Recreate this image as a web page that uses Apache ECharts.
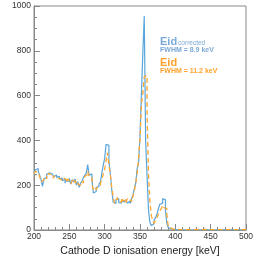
<!DOCTYPE html>
<html><head><meta charset="utf-8">
<script src="https://cdn.jsdelivr.net/npm/echarts@6/dist/echarts.min.js"></script>
<style>html,body{margin:0;padding:0;background:#fff}#c{width:257px;height:257px}</style>
</head><body><div id="c"></div>
<script>
// Histogram: 2 keV bins, lower edges from 200 to 498
var binStart = 200, binWidth = 2;
var correctedCounts = [
 255,268,275,262,245,225,195,228,235,250, // 200-218
 255,248,250,242,238,246,235,240,228,232, // 220-238
 220,228,210,222,215,230,205,225,215,228, // 240-258
 200,215,190,210,220,235,245,255,292,245, // 260-278
 250,225,165,172,190,195,205,215,255,290, // 280-298
 320,382,378,310,250,180,125,118,135,140, // 300-318
 122,120,132,125,118,135,120,128,118,140, // 320-338
 155,185,210,275,300,420,607,789,955,395, // 340-358
 240,90,35,20,28,45,55,70,95,115,         // 360-378
 120,140,135,90,30,10,6,4,3,2,            // 380-398
 1,0,2,0,1,3,0,0,1,0,                     // 400-418
 0,1,0,0,2,0,0,1,0,0,                     // 420-438
 3,0,0,1,0,0,0,2,0,0,                     // 440-458
 0,3,0,0,1,0,0,0,2,0,                     // 460-478
 0,1,0,0,0,2,0,0,1,0                      // 480-498
];
var rawCounts = [
 250,262,258,250,238,215,222,232,240,228,
 252,248,238,232,242,235,240,230,238,222,
 218,232,225,212,228,218,205,220,228,210,
 218,205,200,215,210,222,240,248,262,240,
 235,205,180,190,180,192,200,210,225,250,
 270,310,345,290,250,190,150,120,130,145,
 128,125,145,130,135,122,140,130,135,125,
 150,175,210,255,320,410,560,610,685,690,
 520,250,130,65,40,30,45,55,70,85,
 95,110,100,95,70,15,8,5,3,3,
 2,2,3,2,2,3,2,2,2,3,
 2,3,2,2,3,2,2,3,2,2,
 3,2,2,3,2,2,2,3,2,2,
 2,3,2,2,3,2,2,2,3,2,
 2,3,2,2,2,3,2,2,3,2
];
var xTicks = [200,250,300,350,400,450,500];
var yTicks = [0,200,400,600,800,1000];

function toSteps(counts){
  var pts = [];
  for (var i=0;i<counts.length;i++) pts.push([binStart+i*binWidth, counts[i]]);
  pts.push([binStart+counts.length*binWidth, counts[counts.length-1]]);
  return pts;
}

var chart = echarts.init(document.getElementById('c'), null, {renderer:'canvas'});
var font = 'Liberation Sans, Arial, sans-serif';
chart.setOption({
  animation:false,
  grid:{left:34,right:11,top:6,bottom:27,containLabel:false,outerBoundsMode:'none',
    show:true,borderColor:'#888',borderWidth:1,backgroundColor:'transparent'},
  xAxis:{type:'value',min:xTicks[0],max:xTicks[xTicks.length-1],interval:50,
    name:'Cathode D ionisation energy [keV]',nameLocation:'middle',nameGap:14,
    nameTextStyle:{fontFamily:font,fontSize:10.5,color:'#222'},
    axisLine:{lineStyle:{color:'#888'}},
    axisTick:{inside:true,length:6,lineStyle:{color:'#888'}},
    minorTick:{show:true,splitNumber:5,length:3,lineStyle:{color:'#888'}},
    axisLabel:{fontFamily:font,fontSize:8.5,color:'#333',margin:2,formatter:function(v){return String(v);}},
    splitLine:{show:false}},
  yAxis:{type:'value',min:yTicks[0],max:yTicks[yTicks.length-1],interval:200,
    name:'Counts / 2 keV',nameLocation:'middle',nameGap:22,
    nameTextStyle:{fontFamily:font,fontSize:10.5,color:'#222'},
    axisLine:{show:true,lineStyle:{color:'#888'}},
    axisTick:{show:true,inside:true,length:6,lineStyle:{color:'#888'}},
    minorTick:{show:true,splitNumber:4,length:3,lineStyle:{color:'#888'}},
    axisLabel:{fontFamily:font,fontSize:8.5,color:'#333',margin:3,formatter:function(v){return String(v);}},
    splitLine:{show:false}},
  series:[
    {type:'line',step:'end',symbol:'none',data:toSteps(correctedCounts),
      lineStyle:{color:'#5aa6dc',width:1.2},z:3},
    {type:'line',step:'end',symbol:'none',data:toSteps(rawCounts),
      lineStyle:{color:'#ffa733',width:1.3,type:[5,3]},z:4}
  ],
  graphic:[
    {type:'text',left:160,top:36,style:{text:'{a|Eid}{b|corrected}',rich:{
      a:{fontFamily:font,fontSize:11,fontWeight:'bold',fill:'#7ba9d8',verticalAlign:'bottom'},
      b:{fontFamily:font,fontSize:6.5,fill:'#7ba9d8',verticalAlign:'bottom',padding:[0,0,0,1]}}}},
    {type:'text',left:160,top:47,style:{text:'FWHM = 8.9 keV',fontFamily:font,fontSize:7,fontWeight:'bold',fill:'#7ba9d8'}},
    {type:'text',left:160,top:57,style:{text:'Eid',fontFamily:font,fontSize:11,fontWeight:'bold',fill:'#ffa22a'}},
    {type:'text',left:160,top:68,style:{text:'FWHM = 11.2 keV',fontFamily:font,fontSize:7,fontWeight:'bold',fill:'#ffa22a'}}
  ]
});
</script></body></html>
